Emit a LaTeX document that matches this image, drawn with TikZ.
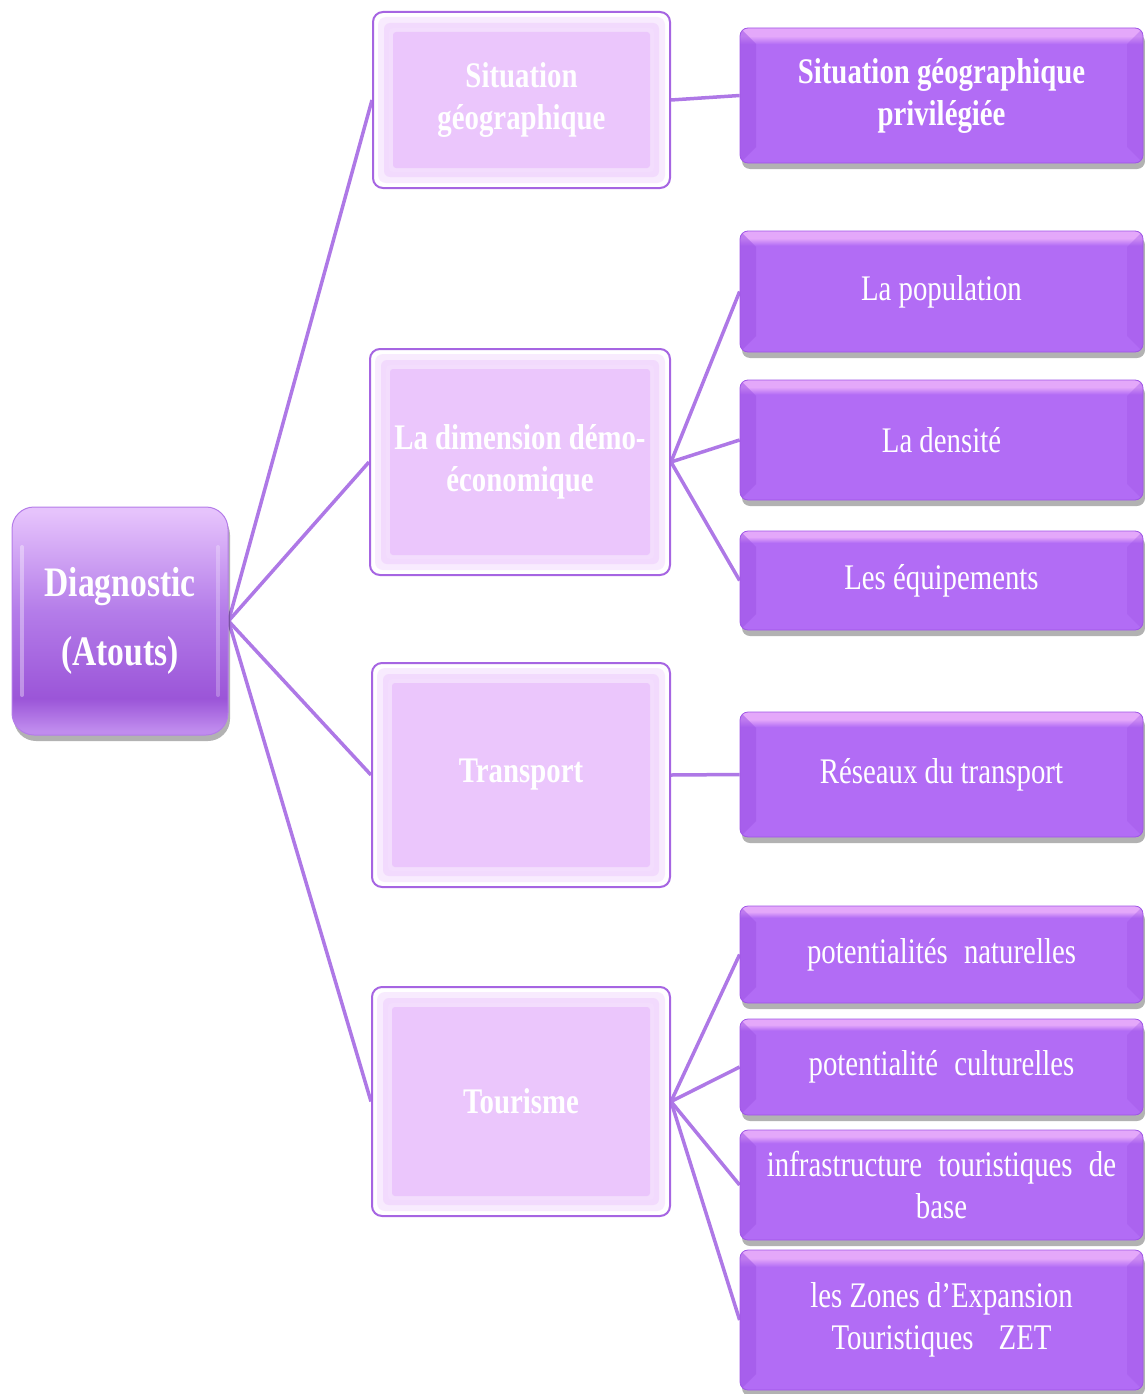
\documentclass[tikz,border=0pt]{standalone}
\usepackage{fontspec}
\setmainfont{Liberation Serif}[FakeStretch=0.8]
\usetikzlibrary{shadows,backgrounds}
\definecolor{conn}{HTML}{AE78E6}
\definecolor{rmain}{HTML}{B26CF5}
\definecolor{rlight}{HTML}{E4A8FA}
\definecolor{rdark}{HTML}{9F55E6}
\definecolor{mfill}{HTML}{EBC6FC}
\definecolor{mborder}{HTML}{A665E2}
\definecolor{rtA}{HTML}{C08CEE}
\definecolor{rtB}{HTML}{9B55D8}
\definecolor{rtC}{HTML}{B47CE9}
\definecolor{rtD}{HTML}{E6C3FC}
\pgfdeclareverticalshading{rbevel}{100bp}{color(0bp)=(rmain); color(69bp)=(rmain); color(72bp)=(rlight); color(100bp)=(rlight)}
\pgfdeclareverticalshading{rootshade}{100bp}{color(0bp)=(rtA); color(26bp)=(rtA); color(33bp)=(rtB); color(52bp)=(rtC); color(74bp)=(rtD); color(100bp)=(rtD)}
\tikzset{
  rbox/.style={rounded corners=8pt, shading=rbevel, draw=rdark, line width=0.8pt,
    minimum width=403pt, text=white, font=\fontsize{36}{42}\selectfont,
    align=center, inner sep=0pt,
    drop shadow={shadow xshift=2pt, shadow yshift=-6pt, fill=black, opacity=0.3},
    path picture={
      \fill[rdark, opacity=0.55, sharp corners] (path picture bounding box.north west) -- ([xshift=16pt,yshift=-16pt]path picture bounding box.north west) -- ([xshift=16pt,yshift=16pt]path picture bounding box.south west) -- (path picture bounding box.south west) -- cycle;
      \fill[rdark, opacity=0.35, sharp corners] (path picture bounding box.north east) -- ([xshift=-16pt,yshift=-16pt]path picture bounding box.north east) -- ([xshift=-16pt,yshift=16pt]path picture bounding box.south east) -- (path picture bounding box.south east) -- cycle;
    }},
  mbox/.style={rounded corners=10pt, fill=white, draw=mborder, line width=2pt,
    text=white, font=\bfseries\fontsize{36}{42}\selectfont, align=center, inner sep=0pt,
    path picture={
      \fill[mfill!35, rounded corners=8pt] ([xshift=5pt,yshift=-5pt]path picture bounding box.north west) rectangle ([xshift=-5pt,yshift=5pt]path picture bounding box.south east);
      \fill[mfill!65, rounded corners=6pt] ([xshift=11pt,yshift=-11pt]path picture bounding box.north west) rectangle ([xshift=-11pt,yshift=11pt]path picture bounding box.south east);
      \fill[white!40!mfill, rounded corners=4pt] ([xshift=16pt,yshift=-16pt]path picture bounding box.north west) rectangle ([xshift=-16pt,yshift=16pt]path picture bounding box.south east);
      \fill[mfill, rounded corners=3pt] ([xshift=20pt,yshift=-20pt]path picture bounding box.north west) rectangle ([xshift=-20pt,yshift=20pt]path picture bounding box.south east);
    }},
  rootbox/.style={rounded corners=22pt, shading=rootshade, draw=rtC, line width=1pt,
    text=white, font=\bfseries\fontsize{42}{69}\selectfont, align=center, inner sep=0pt,
    minimum width=216pt, minimum height=228pt,
    drop shadow={shadow xshift=2pt, shadow yshift=-6pt, fill=black, opacity=0.3},
    path picture={
      \draw[white, opacity=0.35, line width=4pt, line cap=round] ([xshift=10pt,yshift=-40pt]path picture bounding box.north west) -- ([xshift=10pt,yshift=40pt]path picture bounding box.south west);
      \draw[white, opacity=0.25, line width=4pt, line cap=round] ([xshift=-10pt,yshift=-40pt]path picture bounding box.north east) -- ([xshift=-10pt,yshift=40pt]path picture bounding box.south east);
    }},
  connline/.style={draw=conn, line width=3.5pt}
}
\begin{document}
\begin{tikzpicture}[x=1pt,y=1pt]
\useasboundingbox (0,0) rectangle (1145,-1394);
% root
\node[rootbox] (root) at (120,-621) {Diagnostic\\(Atouts)};
% middle
\node[mbox, minimum width=297pt, minimum height=176pt] (m1) at (521.5,-100) {Situation\\géographique};
\node[mbox, minimum width=300pt, minimum height=226pt] (m2) at (520,-462) {La dimension démo-\\économique};
\node[mbox, minimum width=298pt, minimum height=224pt] (m3) at (521,-775) {Transport};
\node[mbox, minimum width=298pt, minimum height=229pt] (m4) at (521,-1101.5) {Tourisme};
% right
\node[rbox, minimum height=135pt, font=\bfseries\fontsize{36}{42}\selectfont] (r1) at (941.5,-95.5) {Situation géographique\\privilégiée};
\node[rbox, minimum height=121pt] (r2) at (941.5,-291.5) {La population};
\node[rbox, minimum height=120pt] (r3) at (941.5,-440) {La densité};
\node[rbox, minimum height=99pt] (r4) at (941.5,-580.5) {Les équipements};
\node[rbox, minimum height=125pt] (r5) at (941.5,-774.5) {Réseaux du transport};
\node[rbox, minimum height=97pt] (r6) at (941.5,-954.5) {potentialités\hspace{0.45em}naturelles};
\node[rbox, minimum height=96pt] (r7) at (941.5,-1067) {potentialité\hspace{0.45em}culturelles};
\node[rbox, minimum height=110pt] (r8) at (941.5,-1185) {infrastructure\hspace{0.25em} touristiques\hspace{0.25em} de\\base};
\node[rbox, minimum height=140pt] (r9) at (941.5,-1320) {les Zones d’Expansion\\Touristiques\hspace{0.5em} ZET};
% connectors
\begin{scope}[on background layer]
\draw[connline] (root.east) -- (m1.west);
\draw[connline] (root.east) -- (m2.west);
\draw[connline] (root.east) -- (m3.west);
\draw[connline] (root.east) -- (m4.west);
\draw[connline] (m1.east) -- (r1.west);
\draw[connline] (m2.east) -- (r2.west);
\draw[connline] (m2.east) -- (r3.west);
\draw[connline] (m2.east) -- (r4.west);
\draw[connline] (m3.east) -- (r5.west);
\draw[connline] (m4.east) -- (r6.west);
\draw[connline] (m4.east) -- (r7.west);
\draw[connline] (m4.east) -- (r8.west);
\draw[connline] (m4.east) -- (r9.west);
\end{scope}
\end{tikzpicture}
\end{document}
